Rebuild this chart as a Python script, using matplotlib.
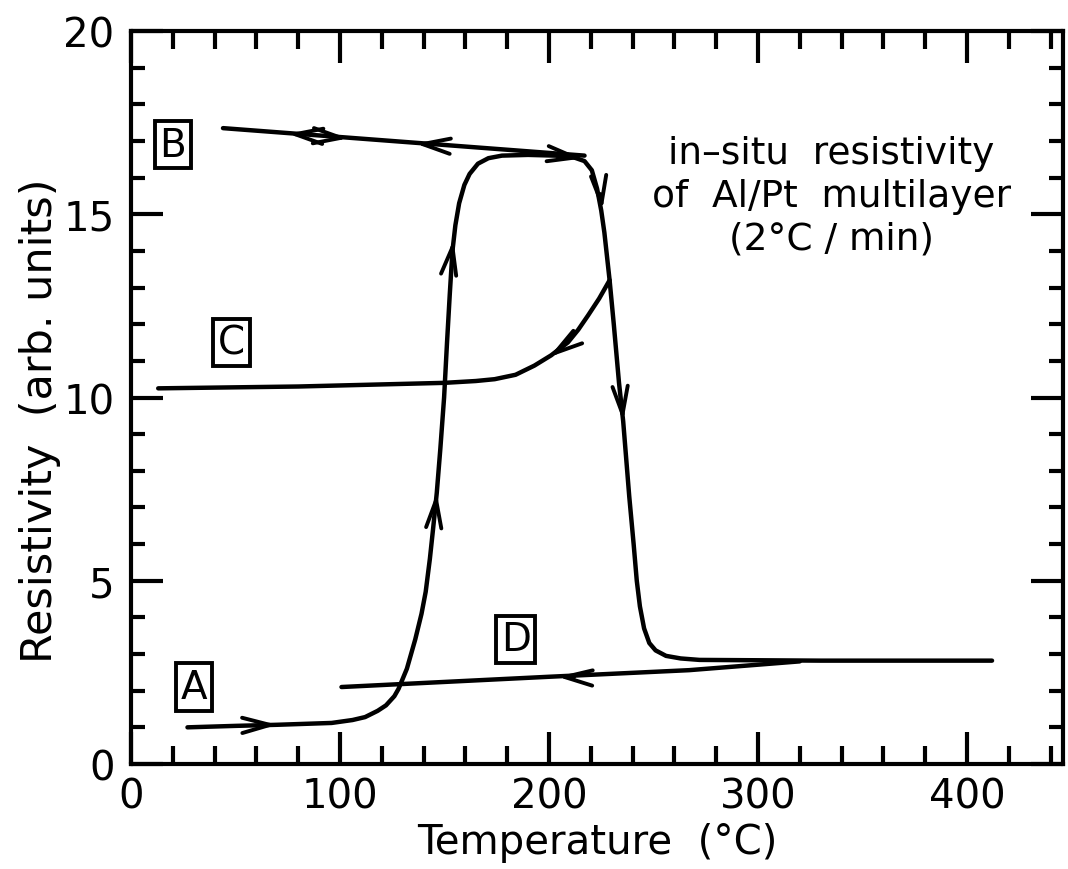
import numpy as np
import matplotlib.pyplot as plt
from matplotlib.ticker import MultipleLocator

# heating run from A: rises, plateau, then drops to the final state
heat_t = [27, 50, 70, 96, 106, 112, 118, 122, 126, 128, 132, 136, 139, 141, 143, 144.5,
          146.3, 148, 149.8, 151.2, 152.5, 153.8, 155.2, 157, 159.5, 162, 166, 171, 177.5, 190,
          203, 212, 217, 220.5, 223, 225, 226.5, 229, 231, 233.5, 235.5, 238.4, 240.5,
          242, 243.5, 245.5, 248, 251, 256, 263, 272, 330, 412]
heat_r = [1.0, 1.04, 1.07, 1.12, 1.2, 1.28, 1.45, 1.6, 1.85, 2.05, 2.6, 3.4, 4.1, 4.7, 5.6, 6.4,
          7.4, 8.6, 10.0, 11.5, 12.8, 14.0, 14.7, 15.3, 15.8, 16.1, 16.38, 16.53, 16.6, 16.62,
          16.6, 16.55, 16.45, 16.2, 15.7, 15.1, 14.5, 13.2, 12.0, 10.4, 9.35, 7.3, 6.0,
          5.0, 4.3, 3.7, 3.3, 3.1, 2.95, 2.88, 2.84, 2.82, 2.82]

# cycling in state B
b_t = [44, 217]
b_r = [17.35, 16.6]

# cooling from the middle of the drop (C)
c_t = [13, 80, 150, 165, 174, 184, 193, 201, 209, 214, 218.7, 224, 229]
c_r = [10.25, 10.3, 10.4, 10.45, 10.5, 10.62, 10.87, 11.15, 11.5, 11.85, 12.24, 12.7, 13.2]

# cooling after full reaction (D)
d_t = [100.7, 200, 267, 320]
d_r = [2.1, 2.38, 2.56, 2.8]

# arrow tips (T, R) and on-screen pointing angle in degrees
arrow_t = [70, 146.3, 154.3, 216, 225.5, 235.5, 200, 204, 75, 104, 136]
arrow_r = [1.07, 7.4, 14.3, 16.52, 15.1, 9.35, 11.1, 2.38, 17.2, 17.07, 16.93]
arrow_ang = [1, 85, 82, -8, -84, -85, 215, 178, 175.6, -4.4, 175.6]

labels = ["A", "B", "C", "D"]
label_t = [30, 20, 48, 184]
label_r = [2.1, 16.9, 11.5, 3.4]

note = "in\u2013situ  resistivity\nof  Al/Pt  multilayer\n(2\u00b0C / min)"

plt.rcParams["font.family"] = ["DejaVu Sans"]
fig = plt.figure(figsize=(10.68, 8.7), dpi=100)
ax = fig.add_axes([0.1227, 0.1207, 0.8727, 0.8425])

lw = 3.2
for xs, ys in [(heat_t, heat_r), (b_t, b_r), (c_t, c_r), (d_t, d_r)]:
    ax.plot(xs, ys, color="black", lw=lw, solid_capstyle="round", solid_joinstyle="round")

for t, r, ang in zip(arrow_t, arrow_r, arrow_ang):
    a = np.deg2rad(ang)
    ax.annotate("", xy=(t, r), xytext=(-12 * np.cos(a), -12 * np.sin(a)),
                textcoords="offset points",
                arrowprops=dict(arrowstyle="->,head_length=0.8,head_width=0.22",
                                lw=2.8, color="black", mutation_scale=25,
                                shrinkA=0, shrinkB=0))

for lab, t, r in zip(labels, label_t, label_r):
    ax.text(t, r, lab, fontsize=28, ha="center", va="center",
            bbox=dict(boxstyle="square,pad=0.12", fc="white", ec="black", lw=2.8))

ax.text(335, 15.5, note, fontsize=27, ha="center", va="center", linespacing=1.25)

ax.set_xlim(0, 446)
ax.set_ylim(0, 20)
ax.xaxis.set_major_locator(MultipleLocator(100))
ax.xaxis.set_minor_locator(MultipleLocator(20))
ax.yaxis.set_major_locator(MultipleLocator(5))
ax.yaxis.set_minor_locator(MultipleLocator(1))

ax.tick_params(which="both", direction="in", top=True, right=True, width=3, colors="black")
ax.tick_params(axis="x", which="major", length=23, labelsize=29, pad=9)
ax.tick_params(axis="x", which="minor", length=13)
ax.tick_params(axis="y", which="major", length=23, labelsize=29, pad=12)
ax.tick_params(axis="y", which="minor", length=10)
for s in ax.spines.values():
    s.set_linewidth(3)

ax.set_xlabel("Temperature  (\u00b0C)", fontsize=29, labelpad=4)
ax.set_ylabel("Resistivity  (arb. units)", fontsize=31)
ax.yaxis.set_label_coords(-0.075, 0.47)

fig.savefig("out.png", dpi=100, facecolor="white")
